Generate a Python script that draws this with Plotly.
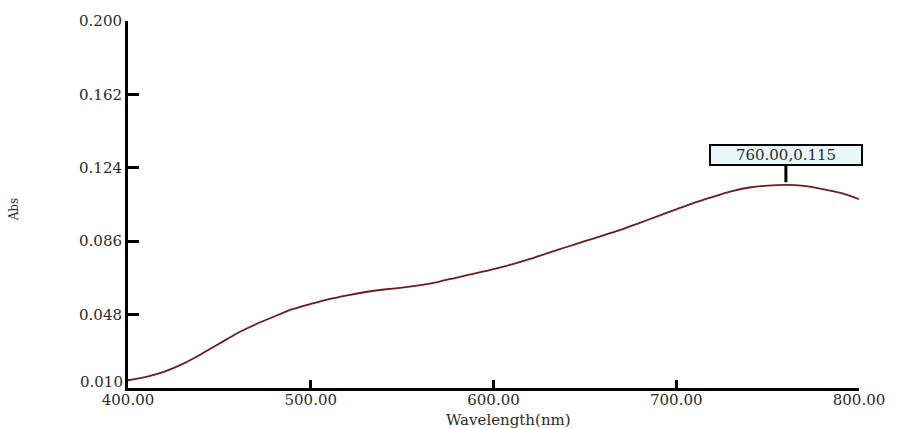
import plotly.graph_objects as go

# Data
wavelength = [400, 410, 420, 430, 440, 450, 460, 470, 480, 490,
              500, 510, 520, 530, 540, 550, 560, 570, 580, 590,
              600, 610, 620, 630, 640, 650, 660, 670, 680, 690,
              700, 710, 720, 730, 740, 750, 760, 770, 780, 790, 800]
absorbance = [0.0140, 0.0158, 0.0185, 0.0225, 0.0275, 0.0330, 0.0385, 0.0430, 0.0470, 0.0508,
              0.0535, 0.0560, 0.0580, 0.0597, 0.0610, 0.0620, 0.0633, 0.0650, 0.0672, 0.0693,
              0.0715, 0.0740, 0.0768, 0.0800, 0.0830, 0.0860, 0.0890, 0.0920, 0.0955, 0.0990,
              0.1025, 0.1060, 0.1090, 0.1118, 0.1138, 0.1148, 0.1152, 0.1146, 0.1130, 0.1110, 0.1078]

x_ticks = [400, 500, 600, 700, 800]
x_tick_labels = ["400.00", "500.00", "600.00", "700.00", "800.00"]
y_ticks = [0.010, 0.048, 0.086, 0.124, 0.162, 0.200]
y_tick_labels = ["0.010", "0.048", "0.086", "0.124", "0.162", "0.200"]

peak_x = 760
peak_y = 0.115
peak_label = "760.00,0.115"

FONT = "DejaVu Serif"
TXT = "#2a2a2a"

fig = go.Figure()
fig.add_trace(go.Scatter(
    x=wavelength, y=absorbance, mode="lines",
    line=dict(color="#6e1c1c", width=1.8, shape="spline", smoothing=0.6),
    showlegend=False, hoverinfo="x+y",
))

# the lowest y label sits slightly raised in the reference, drawn separately
y_ticktext = [""] + y_tick_labels[1:]

fig.update_layout(
    width=897, height=428,
    margin=dict(l=128, r=36, t=21, b=40),
    paper_bgcolor="white", plot_bgcolor="white",
    font=dict(family=FONT, color=TXT, size=14),
    xaxis=dict(
        range=[400, 800], tickmode="array", tickvals=x_ticks, ticktext=x_tick_labels,
        showgrid=False, zeroline=False, showline=True, linecolor="black", linewidth=3,
        ticks="inside", ticklen=8, tickwidth=3, tickcolor="black",
        ticklabelstandoff=-4,
        tickfont=dict(family=FONT, size=15, color=TXT),
    ),
    yaxis=dict(
        range=[0.010, 0.200], tickmode="array", tickvals=y_ticks, ticktext=y_ticktext,
        showgrid=False, zeroline=False, showline=True, linecolor="black", linewidth=3,
        ticks="inside", ticklen=11, tickwidth=3, tickcolor="black",
        tickfont=dict(family=FONT, size=15, color=TXT),
    ),
    annotations=[
        dict(x=peak_x, y=peak_y, xref="x", yref="y", text=peak_label,
             showarrow=True, arrowhead=0, arrowwidth=3, arrowcolor="black",
             ax=0, ay=-30, standoff=3,
             bgcolor="#e8f8f8", bordercolor="black", borderwidth=2, borderpad=1,
             width=148, height=16,
             font=dict(family=FONT, size=15, color=TXT)),
        dict(x=0, y=y_ticks[0], xref="paper", yref="y", yshift=6, xshift=-3,
             text=y_tick_labels[0], showarrow=False,
             xanchor="right", yanchor="middle",
             font=dict(family=FONT, size=15, color=TXT)),
        dict(x=(510 - 128) / 733, y=0, xref="paper", yref="paper", yshift=-32,
             text="Wavelength(nm)", showarrow=False,
             xanchor="center", yanchor="middle",
             font=dict(family=FONT, size=15, color=TXT)),
        dict(x=(14 - 128) / 733, y=(388 - 209) / 367, xref="paper", yref="paper",
             text="Abs", showarrow=False, textangle=-90,
             xanchor="center", yanchor="middle",
             font=dict(family=FONT, size=12, color=TXT)),
    ],
)

fig.write_html(
    "out.html",
    config={"displayModeBar": False},
    post_script="document.body.style.margin='0';document.body.style.overflow='hidden';",
)
